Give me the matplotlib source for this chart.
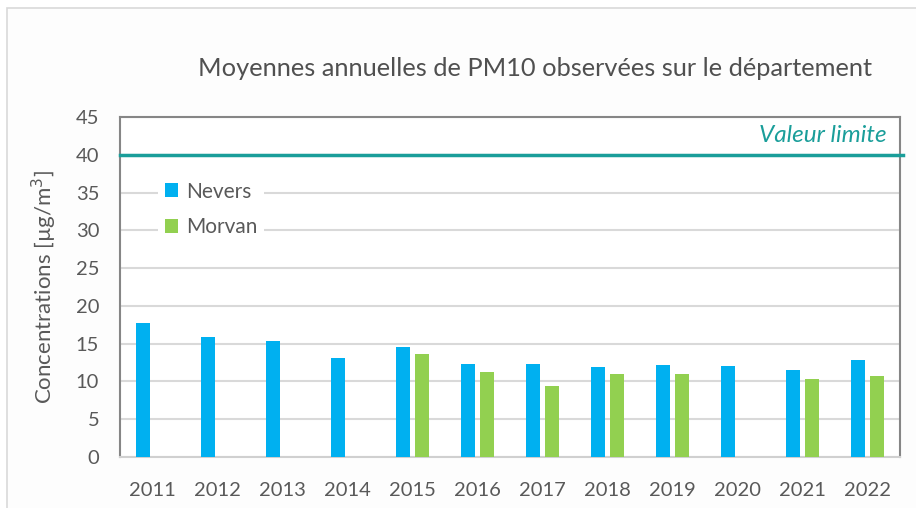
import numpy as np
import matplotlib.pyplot as plt
from matplotlib.patches import Rectangle

plt.rcParams['font.family'] = ['Lato', 'DejaVu Sans']

# Data
years = ['2011', '2012', '2013', '2014', '2015', '2016',
         '2017', '2018', '2019', '2020', '2021', '2022']
nevers = [17.8, 15.9, 15.4, 13.1, 14.5, 12.3, 12.3, 11.9, 12.2, 12.0, 11.5, 12.8]
morvan = [np.nan, np.nan, np.nan, np.nan, 13.6, 11.2, 9.4, 11.0, 11.0, np.nan, 10.3, 10.7]
valeur_limite = 40

col_nevers = '#00B0F0'
col_morvan = '#92D050'
col_limit = '#1A9E9A'
grey_txt = '#595959'

fig = plt.figure(figsize=(9.16, 5.08), dpi=100)
fig.patch.set_facecolor('white')
# light outer frame of the chart image
fig.patches.append(Rectangle((7/916, -0.01), 1.0, 1 - 8/508 + 0.01, transform=fig.transFigure,
                             facecolor='#fdfdfd', edgecolor='#d9d9d9', lw=1.2, zorder=-1))

ax = fig.add_axes([120/916, 1 - 457/508, 780/916, 340/508])
ax.set_facecolor('white')

x = np.arange(len(years))
w = 0.215
ax.bar(x - 0.147, nevers, w, color=col_nevers, label='Nevers', zorder=3)
ax.bar(x + 0.147, morvan, w, color=col_morvan, label='Morvan', zorder=3)

ax.set_xlim(-0.5, len(years) - 0.5)
ax.set_ylim(0, 45)
ax.set_yticks(np.arange(0, 46, 5))
ax.set_xticks(x)
ax.set_xticklabels(years)
ax.tick_params(axis='both', length=0, labelsize=14.5, colors=grey_txt)
ax.tick_params(axis='y', pad=15)
ax.tick_params(axis='x', pad=18)

ax.grid(axis='y', color='#d9d9d9', lw=1.5, zorder=0)
ax.set_axisbelow(True)
for s in ['left', 'right', 'top']:
    ax.spines[s].set_color('#868686')
    ax.spines[s].set_linewidth(1.5)
ax.spines['bottom'].set_color('#d0d0d0')
ax.spines['bottom'].set_linewidth(1.5)

# limit value line
ax.plot([0, 1.004], [valeur_limite / 45] * 2, transform=ax.transAxes, color=col_limit,
        lw=2.5, clip_on=False, zorder=4)
ax.text(0.983, 42.6 / 45, 'Valeur limite', transform=ax.transAxes, ha='right', va='center',
        fontsize=17.5, style='italic', color=col_limit)

ax.set_ylabel('Concentrations [µg/m$^3$]', fontsize=16, color=grey_txt, labelpad=12)

leg = ax.legend(loc='center left', bbox_to_anchor=(0.036, 0.728), frameon=True, fontsize=15,
                handlelength=0.65, handleheight=0.65, handletextpad=0.4, labelspacing=0.75,
                borderpad=0.3, edgecolor='none', framealpha=1)
for t in leg.get_texts():
    t.set_color(grey_txt)

fig.text(535/916, 1 - 68/508, 'Moyennes annuelles de PM10 observées sur le département',
         ha='center', va='center', fontsize=18.3, color='#505050')

fig.savefig('out.png', dpi=100)
